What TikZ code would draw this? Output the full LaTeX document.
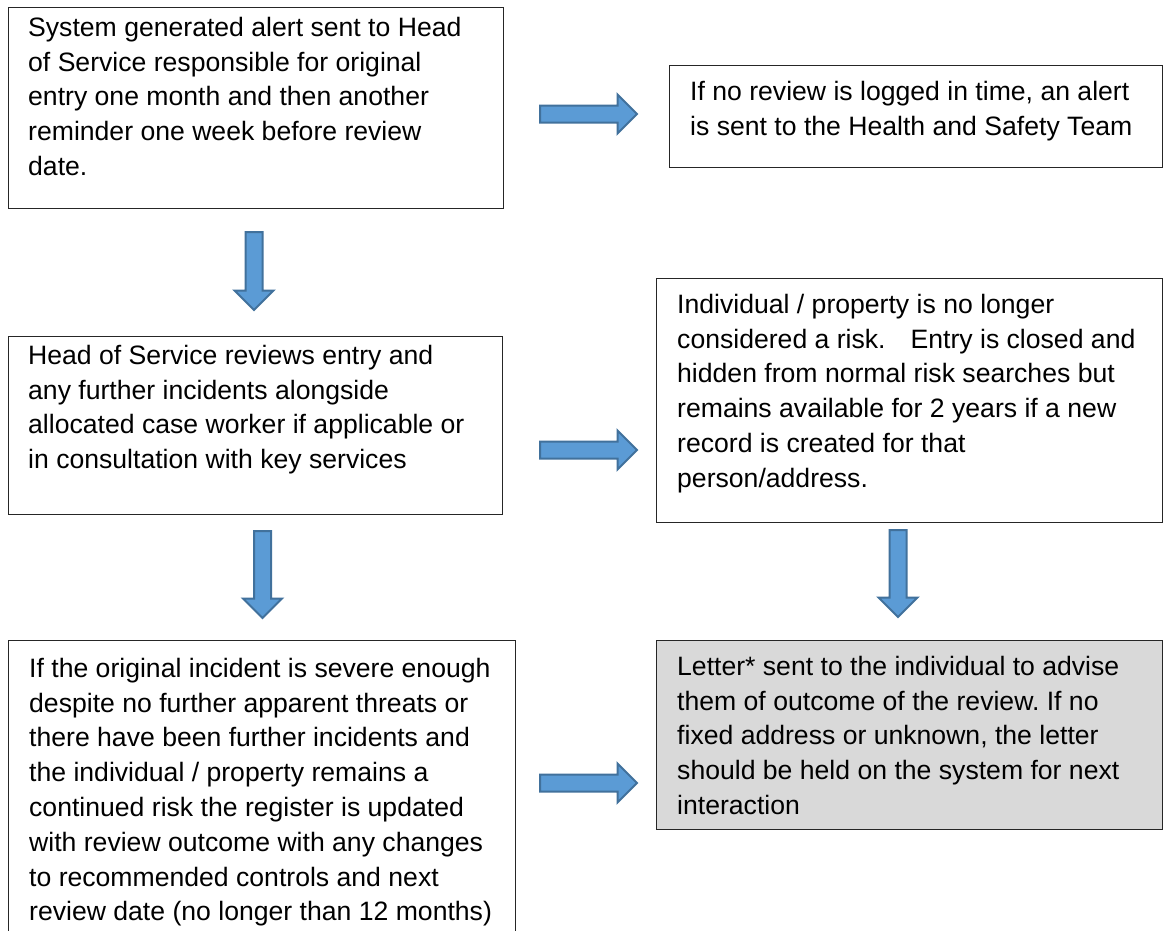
\documentclass[tikz,border=0pt]{standalone}
\usepackage{fontspec}
\setmainfont{Liberation Sans}
\frenchspacing
\definecolor{arrowfill}{HTML}{5B9BD5}
\definecolor{arrowline}{HTML}{41719C}
\definecolor{boxgray}{HTML}{D9D9D9}
\newcommand\harrow[3]{% x-start, x-tip, y-centre
  \draw[blkarrow] (#1,#3-8.5) -- (#2-19.5,#3-8.5) -- (#2-19.5,#3-19.5) -- (#2,#3)
    -- (#2-19.5,#3+19.5) -- (#2-19.5,#3+8.5) -- (#1,#3+8.5) -- cycle;}
\newcommand\varrow[3]{% x-centre, y-start, y-tip
  \draw[blkarrow] (#1-8.5,#2) -- (#1-8.5,#3-19.5) -- (#1-19.5,#3-19.5) -- (#1,#3)
    -- (#1+19.5,#3-19.5) -- (#1+8.5,#3-19.5) -- (#1+8.5,#2) -- cycle;}
\begin{document}
\begin{tikzpicture}[x=1pt,y=-1pt,
  boxstyle/.style={draw=black!85, line width=1.3pt, inner sep=0pt, anchor=north west},
  graybox/.style={boxstyle, fill=boxgray},
  txt/.style={anchor=north west, inner sep=0pt, align=left,
    font=\fontsize{26.6pt}{34.8pt}\selectfont\frenchspacing},
  blkarrow/.style={draw=arrowline, fill=arrowfill, line width=2pt, line join=miter}]
\useasboundingbox (0,0) rectangle (1171,930);
\clip (0,0) rectangle (1171,930);
\fill[white] (0,0) rectangle (1171,930);
% boxes
\node[boxstyle, minimum width=495pt, minimum height=201pt] (b1) at (8,7) {};
\node[boxstyle, minimum width=493pt, minimum height=102pt] (b2) at (669,65) {};
\node[boxstyle, minimum width=494pt, minimum height=178pt] (b3) at (8,336) {};
\node[boxstyle, minimum width=506pt, minimum height=244pt] (b4) at (656,278) {};
\node[boxstyle, minimum width=507pt, minimum height=330pt] (b5) at (8,640) {};
\node[graybox, minimum width=506pt, minimum height=189pt] (b6) at (656,640) {};
% texts
\node[txt] (t1) at (28,36-24.36) {\strut System generated alert sent to Head\\of Service responsible for original\\entry one month and then another\\reminder one week before review\\date.};
\node[txt] (t2) at (690,100-24.36) {\strut If no review is logged in time, an alert\\is sent to the Health and Safety Team};
\node[txt] (t3) at (28,364-24.36) {\strut Head of Service reviews entry and\\any further incidents alongside\\allocated case worker if applicable or\\in consultation with key services};
\node[txt] (t4) at (677,313-24.36) {\strut Individual / property is no longer\\considered a risk.\hspace{25pt}Entry is closed and\\hidden from normal risk searches but\\remains available for 2 years if a new\\record is created for that\\person/address.};
\node[txt] (t5) at (29,677-24.36) {\strut If the original incident is severe enough\\despite no further apparent threats or\\there have been further incidents and\\the individual / property remains a\\continued risk the register is updated\\with review outcome with any changes\\to recommended controls and next\\review date (no longer than 12 months)};
\node[txt] (t6) at (677,675-24.36) {\strut Letter* sent to the individual to advise\\them of outcome of the review. If no\\fixed address or unknown, the letter\\should be held on the system for next\\interaction};
% block arrows
\harrow{540}{637}{114}
\varrow{254}{232}{310}
\harrow{540}{637}{450}
\varrow{262.5}{531}{618}
\varrow{898}{530}{617}
\harrow{540}{637}{783}
\end{tikzpicture}
\end{document}
